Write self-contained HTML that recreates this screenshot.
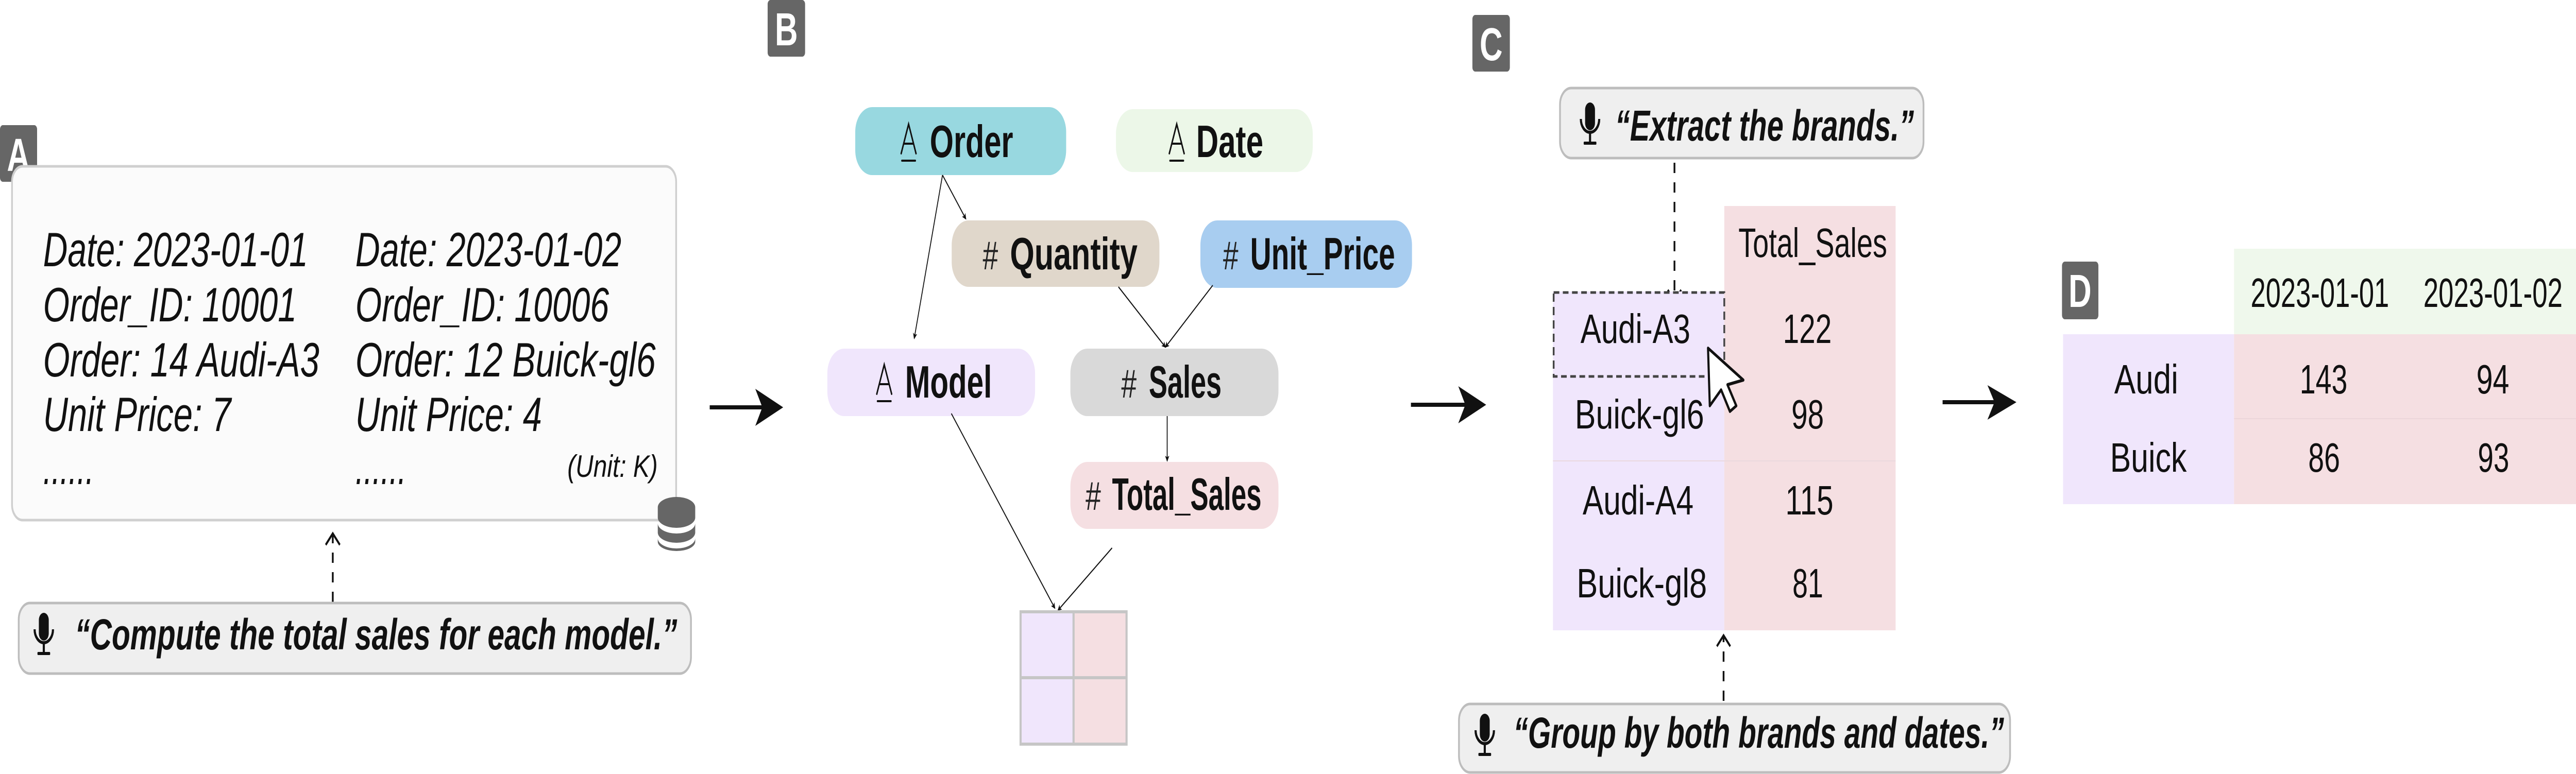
<!DOCTYPE html>
<html><head><meta charset="utf-8"><style>
html,body{margin:0;padding:0;background:#fff;overflow:hidden;}
svg{display:block;width:100vw;height:100vh;}
text{font-family:"Liberation Sans",sans-serif;}
</style></head><body>
<svg viewBox="0 0 7292 1503" preserveAspectRatio="none" xmlns="http://www.w3.org/2000/svg">
<defs>
<marker id="sm" markerWidth="12" markerHeight="12" refX="10" refY="6" orient="auto" markerUnits="userSpaceOnUse" viewBox="0 0 12 12">
<path d="M0,0 L12,6 L0,12 L3,6 Z" fill="#111"/></marker>
</defs>
<rect width="7292" height="1503" fill="#fff"/>

<!-- Panel A -->
<rect x="0" y="243" width="105" height="110" rx="8" fill="#666"/>
<text x="52" y="332" font-size="90" font-weight="bold" fill="#fff" text-anchor="middle">A</text>
<rect x="34" y="323" width="1880" height="687" rx="30" fill="#fbfbfb" stroke="#cfcfcf" stroke-width="5"/>
<g font-size="94" font-style="italic" fill="#111">
<text x="122" y="517" textLength="750" lengthAdjust="spacingAndGlyphs">Date: 2023-01-01</text>
<text x="122" y="624" textLength="718" lengthAdjust="spacingAndGlyphs">Order_ID: 10001</text>
<text x="122" y="731" textLength="782" lengthAdjust="spacingAndGlyphs">Order: 14 Audi-A3</text>
<text x="122" y="837" textLength="532" lengthAdjust="spacingAndGlyphs">Unit Price: 7</text>
<text x="122" y="940" textLength="144" lengthAdjust="spacingAndGlyphs">......</text>
<text x="1006" y="517" textLength="753" lengthAdjust="spacingAndGlyphs">Date: 2023-01-02</text>
<text x="1006" y="624" textLength="718" lengthAdjust="spacingAndGlyphs">Order_ID: 10006</text>
<text x="1006" y="731" textLength="850" lengthAdjust="spacingAndGlyphs">Order: 12 Buick-gl6</text>
<text x="1006" y="837" textLength="528" lengthAdjust="spacingAndGlyphs">Unit Price: 4</text>
<text x="1006" y="940" textLength="144" lengthAdjust="spacingAndGlyphs">......</text>
</g>
<text x="1606" y="926" font-size="60" font-style="italic" fill="#111" textLength="256" lengthAdjust="spacingAndGlyphs">(Unit: K)</text>
<g fill="#666">
<path d="M1862,985 a53,20 0 0,1 106,0 v20 a53,20 0 0,1 -106,0 Z"/>
<path d="M1862,1016 a53,20 0 0,0 106,0 v18 a53,20 0 0,1 -106,0 Z"/>
<path d="M1862,1045 a53,20 0 0,0 106,0 v7 a53,18 0 0,1 -106,0 Z"/>
</g>
<line x1="942" y1="1169" x2="942" y2="1040" stroke="#111" stroke-width="5" stroke-dasharray="20,18"/>
<polyline points="922,1058 942,1036 962,1058" fill="none" stroke="#111" stroke-width="5"/>
<rect x="53" y="1171" width="1903" height="137" rx="32" fill="#efefef" stroke="#bdbdbd" stroke-width="5"/>
<g fill="#111">
<rect x="110" y="1190" width="28" height="54" rx="14"/>
<path d="M98,1222 a26,26 0 0,0 52,0" fill="none" stroke="#111" stroke-width="6"/>
<rect x="121" y="1248" width="6" height="20"/><rect x="106" y="1266" width="36" height="6" rx="2"/>
</g>
<text x="212" y="1261" font-size="84" font-weight="bold" font-style="italic" fill="#111" textLength="1705" lengthAdjust="spacingAndGlyphs">“Compute the total sales for each model.”</text>

<line x1="2009" y1="791" x2="2180" y2="791" stroke="#111" stroke-width="8"/>
<path d="M2217,791 L2138,755 L2158,791 L2138,827 Z" fill="#111"/>

<!-- Panel B -->
<rect x="2173" y="0" width="106" height="110" rx="8" fill="#666"/>
<text x="2226" y="88" font-size="90" font-weight="bold" fill="#fff" text-anchor="middle">B</text>

<rect x="2421" y="208" width="597" height="132" rx="48" fill="#98d8e0"/>
<rect x="3159" y="212" width="557" height="122" rx="48" fill="#ecf7e8"/>
<rect x="2694" y="428" width="588" height="129" rx="48" fill="#e0d7cb"/>
<rect x="3398" y="428" width="599" height="131" rx="48" fill="#a8cdf0"/>
<rect x="2342" y="677" width="588" height="131" rx="48" fill="#f0e6fc"/>
<rect x="3030" y="677" width="589" height="131" rx="48" fill="#d9d9d9"/>
<rect x="3030" y="897" width="589" height="130" rx="48" fill="#f5dfe2"/>

<g fill="none" stroke="#111" stroke-width="4" stroke-linecap="round">
<path d="M2551,298 L2572,241 L2593,298 M2558,279 L2586,279 M2553,312 L2591,312"/>
<path d="M3310,298 L3331,241 L3352,298 M3317,279 L3345,279 M3312,312 L3350,312"/>
<path d="M2482,765 L2503,708 L2524,765 M2489,746 L2517,746 M2484,779 L2522,779"/>
</g>
<g font-weight="bold" fill="#111" font-size="88">
<text x="2632" y="305" textLength="236" lengthAdjust="spacingAndGlyphs">Order</text>
<text x="3386" y="305" textLength="190" lengthAdjust="spacingAndGlyphs">Date</text>
<text x="2859" y="523" textLength="361" lengthAdjust="spacingAndGlyphs">Quantity</text>
<text x="3539" y="523" textLength="410" lengthAdjust="spacingAndGlyphs">Unit_Price</text>
<text x="2562" y="772" textLength="246" lengthAdjust="spacingAndGlyphs">Model</text>
<text x="3252" y="772" textLength="206" lengthAdjust="spacingAndGlyphs">Sales</text>
<text x="3148" y="990" textLength="423" lengthAdjust="spacingAndGlyphs">Total_Sales</text>
</g>
<g fill="#222" font-size="78">
<text x="2782" y="523">#</text>
<text x="3462" y="523">#</text>
<text x="3174" y="772">#</text>
<text x="3073" y="990">#</text>
</g>
<g stroke="#111" stroke-width="2.5" fill="none" marker-end="url(#sm)">
<line x1="2668" y1="340" x2="2734" y2="425"/>
<line x1="2668" y1="340" x2="2588" y2="657"/>
<line x1="3166" y1="557" x2="3299" y2="674"/>
<line x1="3433" y1="554" x2="3299" y2="674"/>
<line x1="3304" y1="808" x2="3304" y2="895"/>
<line x1="2693" y1="803" x2="2986" y2="1181"/>
<line x1="3148" y1="1064" x2="2995" y2="1185"/>
</g>
<rect x="2889" y="1188" width="150" height="128" fill="#f0e6fc"/>
<rect x="2889" y="1316" width="150" height="129" fill="#f0e6fc"/>
<rect x="3039" y="1188" width="150" height="128" fill="#f5dfe2"/>
<rect x="3039" y="1316" width="150" height="129" fill="#f5dfe2"/>
<g fill="none" stroke="#c6c6c6" stroke-width="6">
<rect x="2889" y="1188" width="300" height="257"/>
<line x1="3039" y1="1188" x2="3039" y2="1445"/>
<line x1="2889" y1="1316" x2="3189" y2="1316"/>
</g>

<line x1="3994" y1="786" x2="4170" y2="786" stroke="#111" stroke-width="8"/>
<path d="M4207,786 L4128,750 L4148,786 L4128,822 Z" fill="#111"/>

<!-- Panel C -->
<rect x="4168" y="29" width="106" height="110" rx="8" fill="#666"/>
<text x="4221" y="117" font-size="90" font-weight="bold" fill="#fff" text-anchor="middle">C</text>
<rect x="4416" y="171" width="1029" height="136" rx="32" fill="#efefef" stroke="#bdbdbd" stroke-width="5"/>
<g fill="#111">
<rect x="4487" y="199" width="28" height="54" rx="14"/>
<path d="M4475,231 a26,26 0 0,0 52,0" fill="none" stroke="#111" stroke-width="6"/>
<rect x="4498" y="257" width="6" height="20"/><rect x="4483" y="275" width="36" height="6" rx="2"/>
</g>
<text x="4572" y="273" font-size="84" font-weight="bold" font-style="italic" fill="#111" textLength="846" lengthAdjust="spacingAndGlyphs">“Extract the brands.”</text>
<line x1="4740" y1="316" x2="4740" y2="580" stroke="#111" stroke-width="5" stroke-dasharray="20,18"/>
<polyline points="4721,563 4740,584 4759,563" fill="none" stroke="#111" stroke-width="5"/>

<rect x="4396" y="566" width="485" height="658" fill="#f0e6fc"/>
<rect x="4881" y="400" width="485" height="824" fill="#f5dfe2"/>
<line x1="4396" y1="895" x2="5366" y2="895" stroke="#ead9de" stroke-width="2"/>
<rect x="4398" y="568" width="483" height="163" fill="none" stroke="#444" stroke-width="5" stroke-dasharray="16,10"/>
<g font-size="80" fill="#111">
<text x="4921" y="499" textLength="421" lengthAdjust="spacingAndGlyphs">Total_Sales</text>
<text x="4474" y="666" textLength="311" lengthAdjust="spacingAndGlyphs">Audi-A3</text>
<text x="5047" y="666" textLength="138" lengthAdjust="spacingAndGlyphs">122</text>
<text x="4458" y="832" textLength="366" lengthAdjust="spacingAndGlyphs">Buick-gl6</text>
<text x="5071" y="832" textLength="92" lengthAdjust="spacingAndGlyphs">98</text>
<text x="4480" y="999" textLength="314" lengthAdjust="spacingAndGlyphs">Audi-A4</text>
<text x="5054" y="999" textLength="136" lengthAdjust="spacingAndGlyphs">115</text>
<text x="4463" y="1160" textLength="369" lengthAdjust="spacingAndGlyphs">Buick-gl8</text>
<text x="5074" y="1160" textLength="87" lengthAdjust="spacingAndGlyphs">81</text>
</g>
<polygon points="4835,676 4935,738 4890,747 4915,788 4897,799 4872,757 4840,788" fill="#fff" stroke="#111" stroke-width="6" stroke-linejoin="round"/>

<line x1="4879" y1="1361" x2="4879" y2="1236" stroke="#111" stroke-width="5" stroke-dasharray="20,18"/>
<polyline points="4860,1255 4879,1234 4898,1255" fill="none" stroke="#111" stroke-width="5"/>
<rect x="4130" y="1367" width="1560" height="133" rx="32" fill="#efefef" stroke="#bdbdbd" stroke-width="5"/>
<g fill="#111">
<rect x="4189" y="1386" width="28" height="54" rx="14"/>
<path d="M4177,1418 a26,26 0 0,0 52,0" fill="none" stroke="#111" stroke-width="6"/>
<rect x="4200" y="1444" width="6" height="20"/><rect x="4185" y="1462" width="36" height="6" rx="2"/>
</g>
<text x="4284" y="1452" font-size="84" font-weight="bold" font-style="italic" fill="#111" textLength="1389" lengthAdjust="spacingAndGlyphs">“Group by both brands and dates.”</text>

<line x1="5499" y1="781" x2="5670" y2="781" stroke="#111" stroke-width="8"/>
<path d="M5708,781 L5626,748 L5646,781 L5626,815 Z" fill="#111"/>

<!-- Panel D -->
<rect x="5837" y="508" width="103" height="112" rx="8" fill="#666"/>
<text x="5888" y="596" font-size="90" font-weight="bold" fill="#fff" text-anchor="middle">D</text>
<rect x="6324" y="483" width="968" height="166" fill="#eff8ec"/>
<rect x="5840" y="649" width="484" height="330" fill="#f0e6fc"/>
<rect x="6324" y="649" width="968" height="330" fill="#f5dfe2"/>
<line x1="6324" y1="813" x2="7292" y2="813" stroke="#ecd5da" stroke-width="2"/>
<g font-size="80" fill="#111">
<text x="6371" y="596" textLength="392" lengthAdjust="spacingAndGlyphs">2023-01-01</text>
<text x="6860" y="596" textLength="394" lengthAdjust="spacingAndGlyphs">2023-01-02</text>
<text x="5985" y="764" textLength="181" lengthAdjust="spacingAndGlyphs">Audi</text>
<text x="6510" y="764" textLength="135" lengthAdjust="spacingAndGlyphs">143</text>
<text x="7010" y="764" textLength="93" lengthAdjust="spacingAndGlyphs">94</text>
<text x="5973" y="916" textLength="217" lengthAdjust="spacingAndGlyphs">Buick</text>
<text x="6534" y="916" textLength="90" lengthAdjust="spacingAndGlyphs">86</text>
<text x="7014" y="916" textLength="89" lengthAdjust="spacingAndGlyphs">93</text>
</g>
</svg>
</body></html>
